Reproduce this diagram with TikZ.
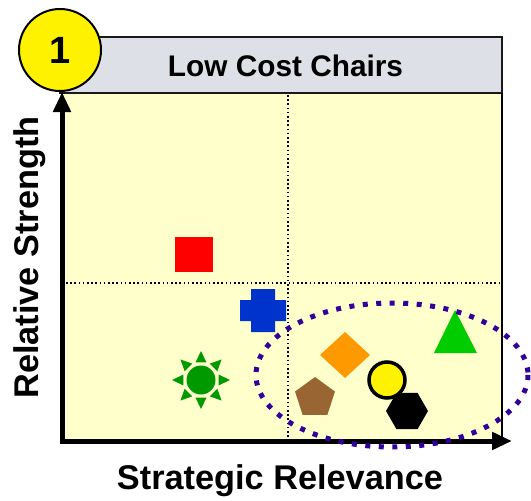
\documentclass[tikz,border=0pt]{standalone}
\usepackage{fontspec}
\setmainfont{Liberation Sans}
\usetikzlibrary{arrows.meta,shapes.geometric,calc}
\definecolor{hdrgray}{HTML}{DDE0E6}
\definecolor{plotyellow}{HTML}{FFFFCC}
\definecolor{ellcol}{HTML}{330099}
\definecolor{mkred}{HTML}{FF0000}
\definecolor{mkblue}{HTML}{0033CC}
\definecolor{mksun}{HTML}{009900}
\definecolor{mkorange}{HTML}{FF9900}
\definecolor{mkbrown}{HTML}{996633}
\definecolor{mkgreen}{HTML}{00CC00}
\tikzset{
  hdrbox/.style={fill=hdrgray,draw=black!90,line width=2pt},
  plotarea/.style={fill=plotyellow,draw=none},
  gridline/.style={line width=1.6pt,dash pattern=on 1.6pt off 2.6pt,black},
  axisline/.style={line width=5pt,-{Triangle[length=20pt,width=17pt]}},
  axislabel/.style={font=\bfseries\fontsize{34.3}{40}\selectfont},
  numcircle/.style={circle,fill=yellow,draw=black,line width=2pt,minimum size=82pt,inner sep=0pt,font=\bfseries\fontsize{38}{42}\selectfont},
  focusell/.style={draw=ellcol,line width=5pt,dash pattern=on 5pt off 8.5pt},
}
\begin{document}
\begin{tikzpicture}[x=1pt,y=-1pt]
\useasboundingbox (0,0) rectangle (531,501);
% header and plot area
\draw[hdrbox] (60,37) rectangle (502,93);
\node[font=\bfseries\fontsize{29.8}{34}\selectfont] (title) at (285.5,66) {Low Cost Chairs};
\fill[plotarea] (62,94) rectangle (502,441);
\draw[line width=2pt] (502,93) -- (502,441);
% dotted dividers
\draw[gridline] (288,95) -- (288,441);
\draw[gridline] (66,283) -- (500,283);
% axes
\coordinate (orig) at (62,443.5);
\coordinate (ytip) at (62,92);
\coordinate (xorig) at (59.5,441);
\coordinate (xtip) at (512,441);
\draw[axisline] (orig) -- (ytip);
\draw[axisline] (xorig) -- (xtip);
% number badge
\node[numcircle] (badge) at (60,50) {1};
% axis labels
\node[axislabel,rotate=90] (ylab) at (29.5,257.5) {Relative Strength};
\node[axislabel] (xlab) at (280,481) {Strategic Relevance};
% markers
\fill[mkred] (175,237) rectangle (213,272);
\fill[mkblue] (251,289) -- (275,289) -- (275,300) -- (286,300) -- (286,321) -- (275,321) -- (275,332) -- (251,332) -- (251,321) -- (240,321) -- (240,300) -- (251,300) -- cycle;
% sun
\coordinate (suncen) at (201,380);
\fill[mksun] (suncen) circle (14.5);
\foreach \a in {0,45,...,315}{
  \fill[mksun] ($(suncen)+(\a:29)$) -- ($(suncen)+(\a+17:18.5)$) -- ($(suncen)+(\a-17:18.5)$) -- cycle;
}
\fill[mkorange] (345,332) -- (370,355) -- (345,378) -- (320,355) -- cycle;
\node[regular polygon,regular polygon sides=5,fill=mkbrown,minimum size=42pt,inner sep=0pt] (pent) at (315,398) {};
\node[regular polygon,regular polygon sides=6,shape border rotate=0,fill=black,minimum size=42pt,inner sep=0pt] (hexa) at (407,411) {};
\node[circle,fill=yellow,draw=black,line width=3.5pt,minimum size=36pt,inner sep=0pt] (ycirc) at (387,380) {};
\fill[mkgreen] (455,310) -- (477,353) -- (434,353) -- cycle;
% focus ellipse
\draw[focusell] (392,375) ellipse (136 and 72);
\end{tikzpicture}
\end{document}
